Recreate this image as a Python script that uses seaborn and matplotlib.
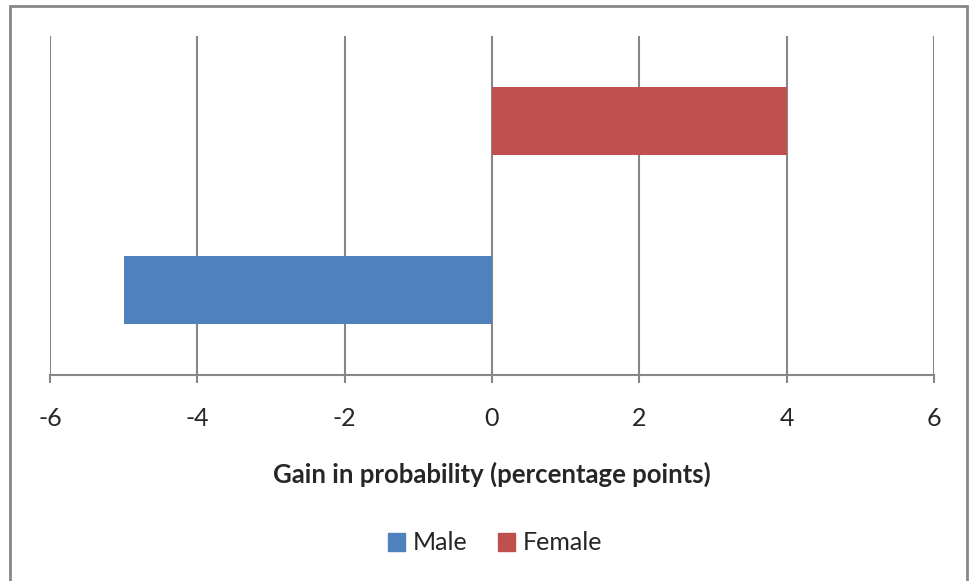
import matplotlib
matplotlib.use("Agg")
import matplotlib.pyplot as plt
import matplotlib.patches as mpatches
import seaborn as sns
import pandas as pd

# Gain in probability by sex (percentage points)
groups = ["Female", "Male"]
gains = [4, -5]
legend_order = ["Male", "Female"]
palette = {"Male": "#4F81BD", "Female": "#C0504D"}
x_ticks = [-6, -4, -2, 0, 2, 4, 6]

df = pd.DataFrame({"sex": groups, "gain": gains})

sns.set_theme(style="white")
plt.rcParams["font.family"] = ["Lato", "DejaVu Sans"]

fig = plt.figure(figsize=(9.7, 5.81), dpi=100)
ax = fig.add_axes([50 / 970, 1 - 375 / 581, (934 - 50) / 970, (375 - 36) / 581])

grid_col = "#878787"
for xv in x_ticks:
    ax.axvline(xv, color=grid_col, linewidth=1.5, zorder=0)

sns.barplot(data=df, x="gain", y="sex", hue="sex", order=groups,
            hue_order=legend_order, palette=palette, width=0.4,
            saturation=1, legend=False, ax=ax, zorder=2, linewidth=0)

ax.set_xlim(-6, 6)
ax.set_xticks(x_ticks)
ax.set_xticklabels([str(v) for v in x_ticks], fontsize=18)
ax.set_yticks([])
ax.set_ylabel("")
ax.set_xlabel("Gain in probability (percentage points)", fontsize=18.5,
              fontweight="bold", labelpad=23)
for side in ["left", "top", "right"]:
    ax.spines[side].set_visible(False)
ax.spines["bottom"].set_color(grid_col)
ax.spines["bottom"].set_linewidth(1.5)
ax.tick_params(axis="x", length=6, width=1.5, color=grid_col, pad=17,
               direction="out", bottom=True)

handles = [mpatches.Patch(color=palette[k], label=k) for k in legend_order]
fig.legend(handles=handles, loc="center", bbox_to_anchor=(495 / 970, 1 - 543 / 581),
           ncol=2, frameon=False, fontsize=18, handlelength=0.7,
           handleheight=0.7, handletextpad=0.3, columnspacing=1.2)

# Chart area border (bottom edge runs past the image)
fig.add_artist(mpatches.Rectangle((10 / 970, -10 / 581), 957 / 970, 585 / 581,
                                  transform=fig.transFigure, fill=False,
                                  edgecolor="#878787", linewidth=2))

fig.savefig("out.png", dpi=100)
